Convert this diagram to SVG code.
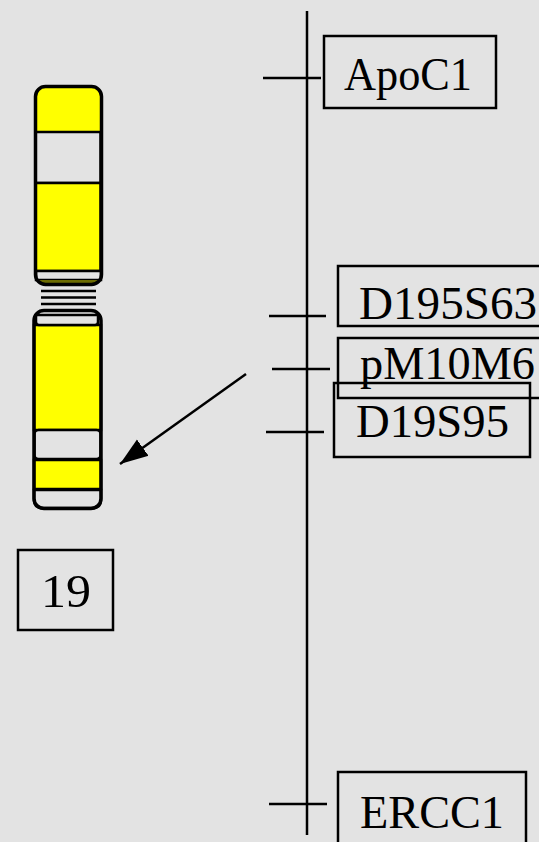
<svg xmlns="http://www.w3.org/2000/svg" width="539" height="842" viewBox="0 0 539 842">
  <style>
    .box { fill: none; stroke: #000; stroke-width: 2.500; }
    .line { fill: none; stroke: #000; stroke-width: 2.500; }
    .band { stroke: #000; stroke-width: 2.500; }
    .yellow { fill: #ffff00; }
    .pale { fill: #e3e3e3; }
    .outline { fill: none; stroke: #000; stroke-width: 3.500; }
    text { font-family: "Liberation Serif", "DejaVu Serif", serif; font-size: 47px; fill: #000; }
  </style>
  <defs>
    <marker id="head" markerUnits="userSpaceOnUse" markerWidth="30" markerHeight="24" refX="28" refY="12" orient="auto">
      <path d="M0 2 L28 12 L0 22 Z" fill="#000"/>
    </marker>
  </defs>
  <rect width="539" height="842" fill="#e3e3e3"/>

  <g id="connectors">
    <path class="line" d="M307 11V835"/>
    <path class="line" d="M263 78H321"/>
    <path class="line" d="M269 316H326"/>
    <path class="line" d="M272 369H330"/>
    <path class="line" d="M266 432H324"/>
    <path class="line" d="M269 804H327"/>
    <path class="line" d="M246 374L120 464" marker-end="url(#head)"/>
  </g>

  <g id="chromosome-19">
    <!-- short arm -->
    <path class="yellow" d="M35 132V97Q35 86 46 86H91Q102 86 102 97V132Z"/>
    <rect class="band pale" x="35.500" y="132" width="65" height="51"/>
    <rect class="band yellow" x="35.500" y="183" width="65" height="88"/>
    <rect class="band pale" x="36" y="271" width="65" height="9"/>
    <path d="M37 280H100L96 284H41Z" fill="#6b6b00"/>
    <rect class="outline" x="35.500" y="86.500" width="66" height="198" rx="10"/>
    <!-- centromere stripes -->
    <path d="M41 291H96M41 297.500H96M41 304H96" stroke="#000" stroke-width="2.500" fill="none"/>
    <!-- long arm -->
    <rect class="band yellow" x="34" y="325" width="67" height="105"/>
    <path class="band pale" d="M36 315H98V322Q98 325 95 325H39Q36 325 36 322Z"/>
    <rect class="band pale" x="34.500" y="430" width="66" height="29" rx="4"/>
    <rect class="band yellow" x="34" y="460" width="67" height="29"/>
    <path class="band pale" d="M34 490H101V500Q101 508 93 508H42Q34 508 34 500Z"/>
    <rect class="outline" x="34" y="310.500" width="67" height="198" rx="10"/>
  </g>

  <g id="label-19">
    <rect class="box" x="18" y="550" width="95" height="80"/>
    <text x="41" y="607" textLength="50" lengthAdjust="spacingAndGlyphs">19</text>
  </g>
  <g id="marker-apoc1">
    <rect class="box" x="324" y="36" width="172" height="72"/>
    <text x="344" y="90" textLength="128" lengthAdjust="spacingAndGlyphs">ApoC1</text>
  </g>
  <g id="marker-d195s63">
    <rect class="box" x="338" y="266" width="210" height="60"/>
    <text x="359" y="319" textLength="178" lengthAdjust="spacingAndGlyphs">D195S63</text>
  </g>
  <g id="marker-pm10m6">
    <rect class="box" x="338" y="338" width="210" height="60"/>
    <text x="360" y="379" textLength="175" lengthAdjust="spacingAndGlyphs">pM10M6</text>
  </g>
  <g id="marker-d19s95">
    <rect class="box" x="334" y="383" width="196" height="74"/>
    <text x="356" y="437" textLength="153" lengthAdjust="spacingAndGlyphs">D19S95</text>
  </g>
  <g id="marker-ercc1">
    <rect class="box" x="338" y="772" width="188" height="80"/>
    <text x="360" y="828" textLength="144" lengthAdjust="spacingAndGlyphs">ERCC1</text>
  </g>
</svg>
